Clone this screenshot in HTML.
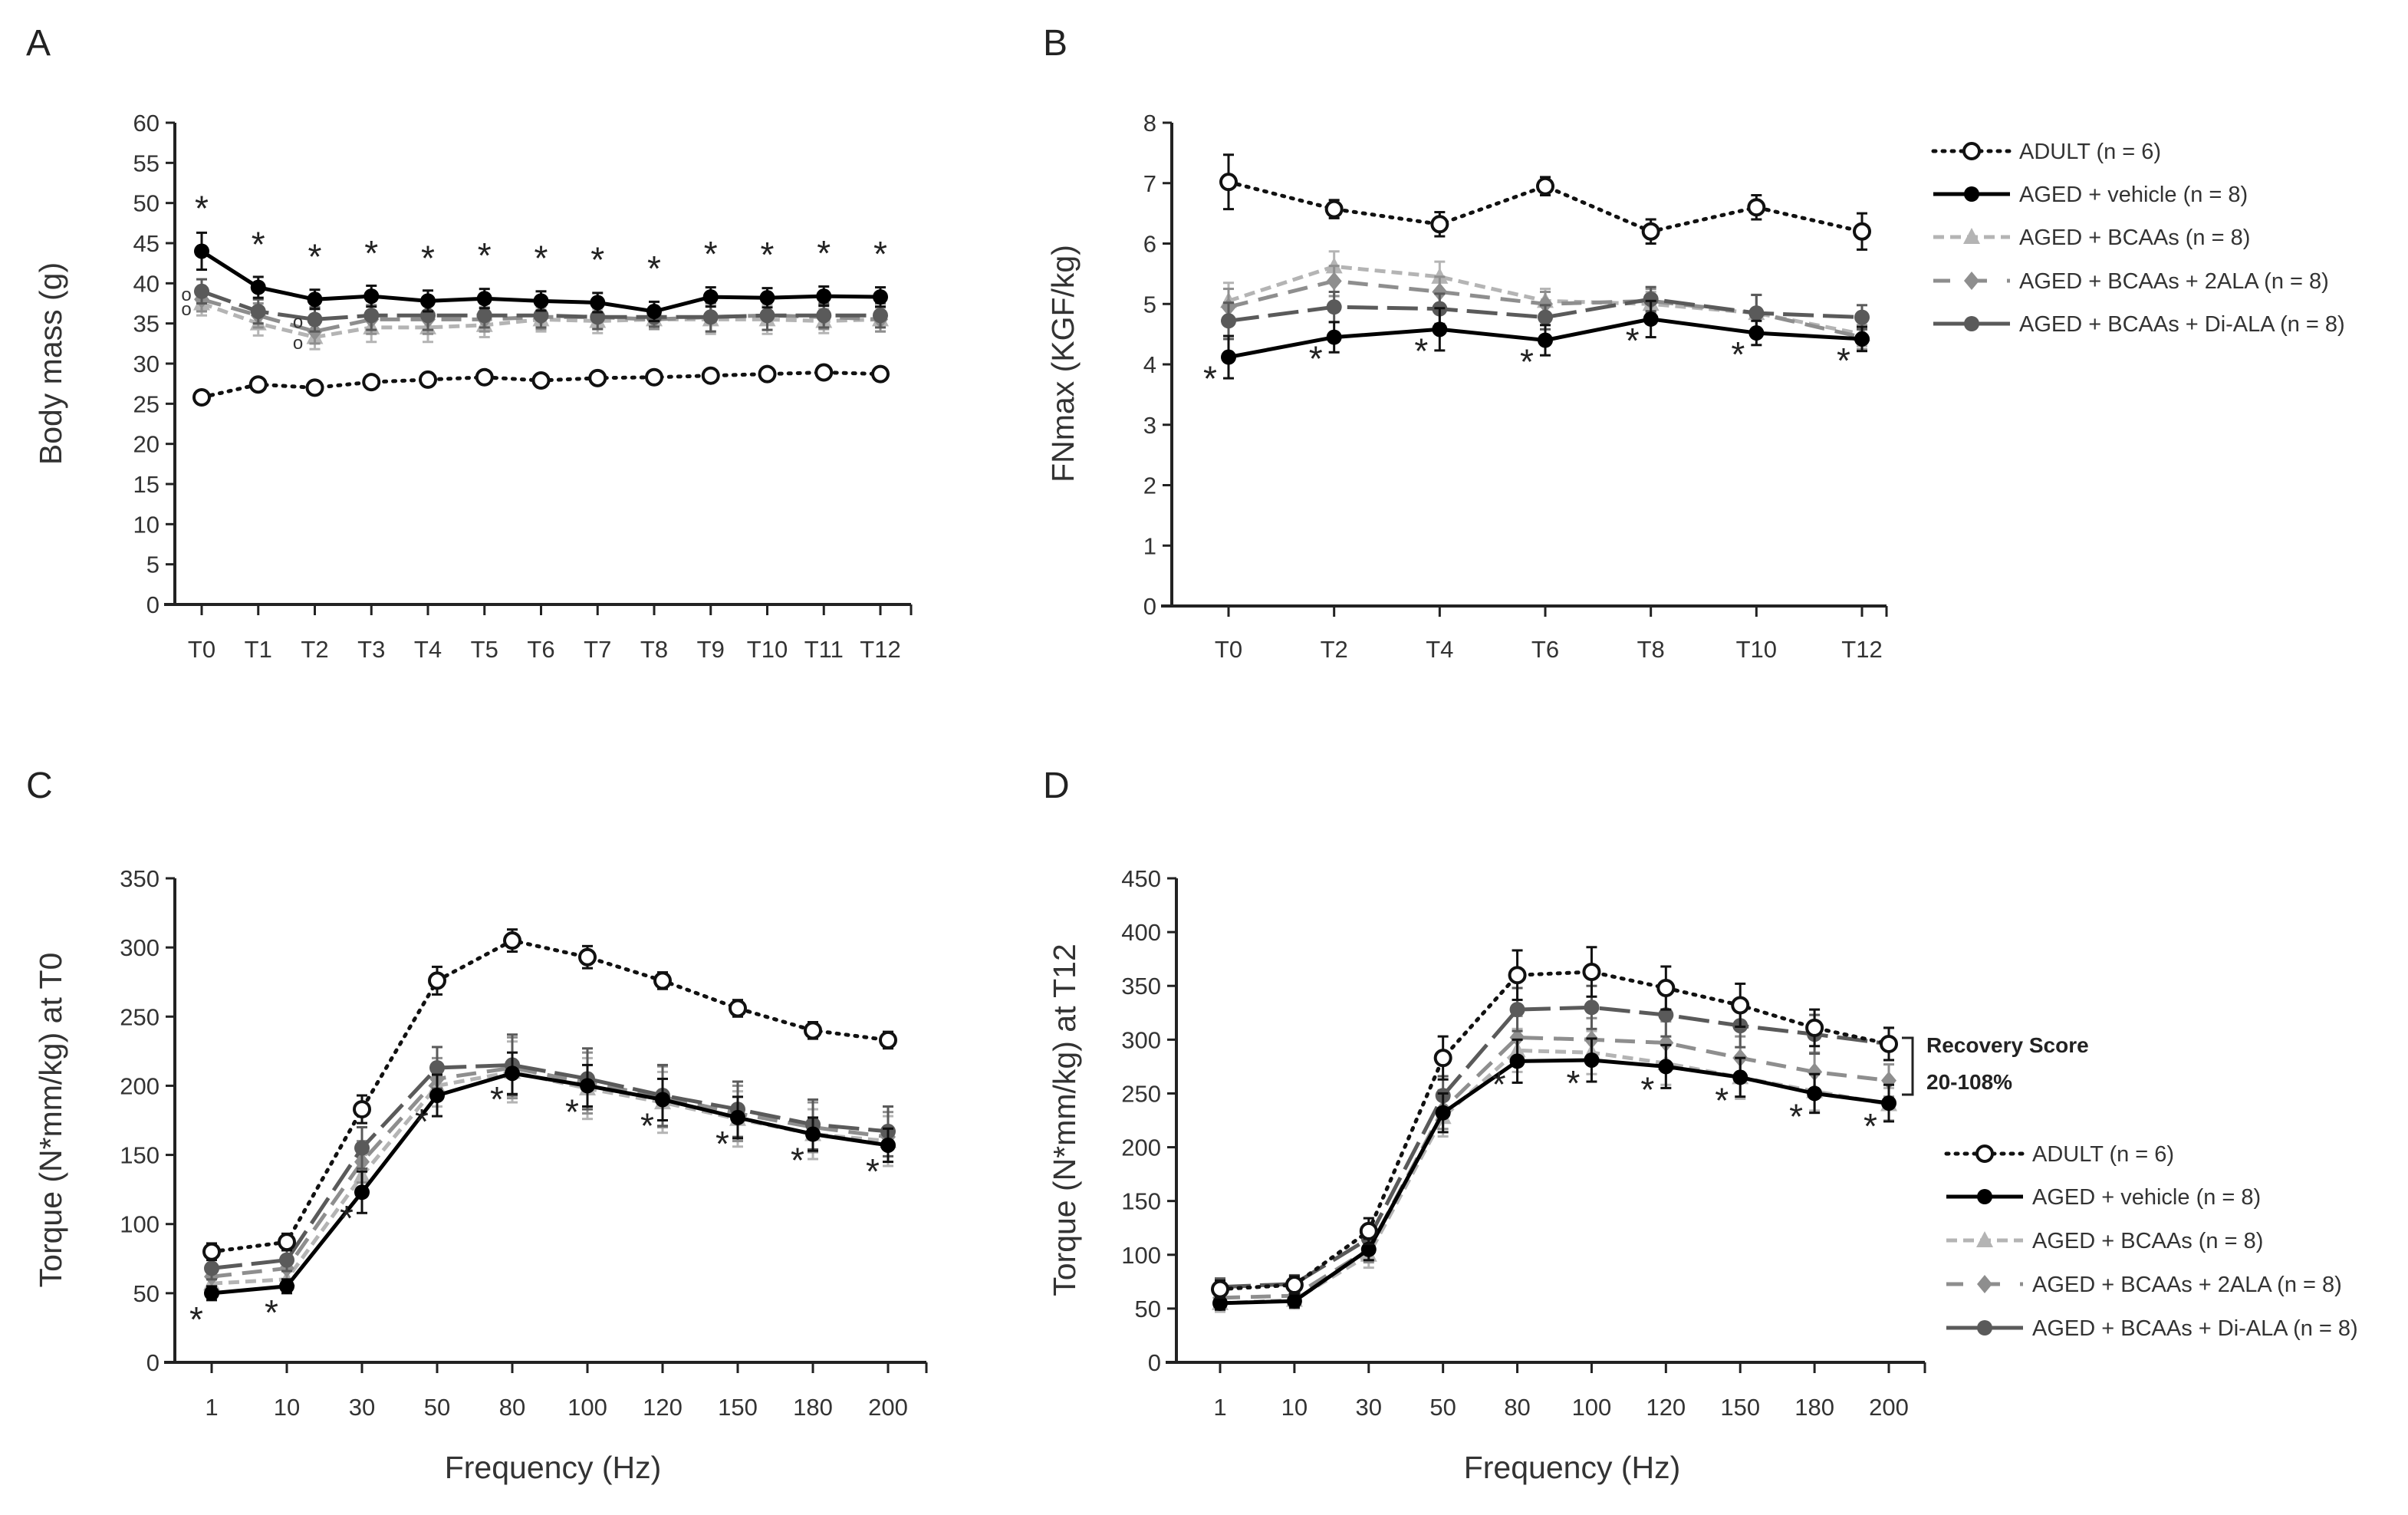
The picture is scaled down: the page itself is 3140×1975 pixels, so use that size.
<!DOCTYPE html>
<html><head><meta charset="utf-8"><style>
html,body{margin:0;padding:0;background:#fff;}
svg{display:block;font-family:"Liberation Sans",sans-serif;}
</style></head><body>
<svg id="fig" width="3140" height="1975" viewBox="0 0 3140 1975" xmlns="http://www.w3.org/2000/svg"></svg>
<script>
// ---------- Panel A data ----------
const catsA = ["T0","T1","T2","T3","T4","T5","T6","T7","T8","T9","T10","T11","T12"];
const ticksA = [0,5,10,15,20,25,30,35,40,45,50,55,60];
const adultA = [25.8,27.4,27,27.7,28,28.3,27.9,28.2,28.3,28.5,28.7,28.9,28.7];
const vehA = [44,39.5,38,38.4,37.8,38.1,37.8,37.6,36.5,38.3,38.2,38.4,38.3];
const bcaaA = [37.5,35,33.3,34.5,34.5,34.8,35.5,35.3,35.5,35.5,35.5,35.3,35.5];
const alaA = [38,36,34,35.5,35.5,35.5,35.8,35.8,35.5,35.8,36,35.8,35.5];
const dialaA = [39,36.5,35.5,36,36,36,36,35.8,35.8,35.8,36,36,36];
const errAdultA = [0.6,0.6,0.6,0.6,0.6,0.6,0.6,0.6,0.6,0.6,0.6,0.6,0.6];
const errVehA = [2.3,1.3,1.2,1.3,1.3,1.2,1.2,1.2,1.2,1.2,1.2,1.2,1.2];
const errOtherA = [1.5,1.5,1.5,1.8,1.8,1.5,1.5,1.5,1.2,1.8,1.8,1.5,1.5];
// ---------- Panel B data ----------
const catsB = ["T0","T2","T4","T6","T8","T10","T12"];
const ticksB = [0,1,2,3,4,5,6,7,8];
const adultB = [7.02,6.57,6.32,6.95,6.2,6.6,6.2];
const vehB = [4.12,4.45,4.58,4.4,4.75,4.52,4.42];
const bcaaB = [5.05,5.62,5.45,5.05,5.0,4.85,4.5];
const alaB = [4.95,5.38,5.2,5.0,5.05,4.85,4.45];
const dialaB = [4.72,4.95,4.92,4.78,5.08,4.85,4.78];
const errAdultB = [0.45,0.15,0.2,0.15,0.2,0.2,0.3];
const errVehB = [0.35,0.25,0.35,0.25,0.3,0.2,0.2];
const errOtherB = [0.3,0.25,0.25,0.2,0.2,0.3,0.2];
// ---------- Panel C data ----------
const catsC = ["1","10","30","50","80","100","120","150","180","200"];
const ticksC = [0,50,100,150,200,250,300,350];
const adultC = [80,87,183,276,305,293,276,256,240,233];
const vehC = [50,55,123,193,209,200,190,177,165,157];
const bcaaC = [57,60,135,200,210,198,188,176,165,160];
const alaC = [62,68,145,205,213,202,192,180,170,163];
const dialaC = [68,74,155,213,215,205,193,183,172,167];
const errAdultC = [6,6,10,10,8,8,6,6,6,6];
const errVehC = [5,5,15,15,15,15,15,15,12,12];
const errOtherC = [8,8,15,15,22,22,22,20,18,18];
// ---------- Panel D data ----------
const catsD = ["1","10","30","50","80","100","120","150","180","200"];
const ticksD = [0,50,100,150,200,250,300,350,400,450];
const adultD = [68,72,122,283,360,363,348,332,311,296];
const vehD = [55,57,105,232,280,281,275,265,250,241];
const bcaaD = [55,58,100,228,290,288,278,265,252,240];
const alaD = [60,62,105,235,302,300,297,283,270,262];
const dialaD = [70,73,115,248,328,330,323,313,305,296];
const errAdultD = [8,8,12,20,23,23,20,20,17,15];
const errVehD = [6,6,10,18,20,20,20,18,18,17];
const errOtherD = [8,8,12,18,20,20,20,20,18,15];

const legendLabels = ["ADULT (n = 6)","AGED + vehicle (n = 8)","AGED + BCAAs (n = 8)","AGED + BCAAs + 2ALA (n = 8)","AGED + BCAAs + Di-ALA (n = 8)"];

const NS = "http://www.w3.org/2000/svg";
const svg = document.getElementById("fig");
function mk(tag, attrs, parent){
  const e = document.createElementNS(NS, tag);
  for (const k in attrs) e.setAttribute(k, attrs[k]);
  (parent||svg).appendChild(e);
  return e;
}
const styles = [
  {stroke:"#111", dash:"3 9", ldash:"3 9", cap:"round", w:5, marker:"circleOpen", fill:"#fff"},
  {stroke:"#000", dash:"", ldash:"", cap:"butt", w:5, marker:"circle", fill:"#000"},
  {stroke:"#b4b4b4", dash:"14 8", ldash:"14 8", cap:"butt", w:5, marker:"triangle", fill:"#b4b4b4"},
  {stroke:"#8e8e8e", dash:"26 14", ldash:"22 26", cap:"butt", w:5, marker:"diamond", fill:"#8e8e8e"},
  {stroke:"#5a5a5a", dash:"40 12", ldash:"", cap:"butt", w:5, marker:"circle", fill:"#5a5a5a"}
];
function marker(g, type, x, y, st){
  let m;
  if (type==="circleOpen") m = mk("circle",{cx:x,cy:y,r:10,fill:"#fff",stroke:"#111","stroke-width":4},g);
  else if (type==="circle") m = mk("circle",{cx:x,cy:y,r:10,fill:st.fill},g);
  else if (type==="triangle") m = mk("polygon",{points:`${x},${y-12} ${x+11},${y+9} ${x-11},${y+9}`,fill:st.fill},g);
  else m = mk("polygon",{points:`${x},${y-12} ${x+10},${y} ${x},${y+12} ${x-10},${y}`,fill:st.fill},g);
  return m;
}
function panel(opt){
  const g = mk("g",{});
  
  
  const {x0,x1,yTop,yBot,ticks,cats,cx0,cx1} = opt;
  const ymin = ticks[0], ymax = ticks[ticks.length-1];
  const Y = v => yBot - (v-ymin)/(ymax-ymin)*(yBot-yTop);
  const step = (cx1-cx0)/(cats.length-1);
  const X = i => cx0 + i*step;
  const L = mk("text",{x:opt.lx,y:opt.ly,"font-size":48,fill:"#222"},g);
  L.textContent = opt.letter;
  
  
  const ya = mk("line",{x1:x0,y1:yTop,x2:x0,y2:yBot,stroke:"#222","stroke-width":4},g);
  
  
  const xa = mk("line",{x1:x0-14,y1:yBot,x2:x1,y2:yBot,stroke:"#222","stroke-width":4},g);
  
  
  mk("line",{x1:x1,y1:yBot,x2:x1,y2:yBot+14,stroke:"#222","stroke-width":3},g);
  ticks.forEach(t=>{
    mk("line",{x1:x0-12,y1:Y(t),x2:x0,y2:Y(t),stroke:"#222","stroke-width":3},g);
    const tx = mk("text",{x:x0-20,y:Y(t)+11,"font-size":31,"text-anchor":"end",fill:"#333"},g);
    tx.textContent = t;
    
    
  });
  cats.forEach((c,i)=>{
    mk("line",{x1:X(i),y1:yBot,x2:X(i),y2:yBot+14,stroke:"#222","stroke-width":3},g);
    const tx = mk("text",{x:X(i),y:opt.tickY,"font-size":31,"text-anchor":"middle",fill:"#333"},g);
    tx.textContent = c;
    
    
  });
  const yt = mk("text",{x:0,y:0,"font-size":41,"text-anchor":"middle",fill:"#333",transform:`translate(${opt.ytx},${opt.yty}) rotate(-90)`},g);
  yt.textContent = opt.ytitle;
  
  
  if (opt.xtitle){
    const xt = mk("text",{x:opt.xtx,y:opt.xty,"font-size":41,"text-anchor":"middle",fill:"#333"},g);
    xt.textContent = opt.xtitle;
    
    
  }
  const order = [2,3,4,1,0];
  order.forEach(si=>{
    const st = styles[si], vals = opt.series[si], errs = opt.errs[si];
    const sg = mk("g",{},g);
    
    
    vals.forEach((v,i)=>{
      const e = errs[i];
      const ec = si===0||si===1 ? "#111" : st.stroke;
      mk("line",{x1:X(i),y1:Y(v+e),x2:X(i),y2:Y(v-e),stroke:ec,"stroke-width":3},sg);
      mk("line",{x1:X(i)-7,y1:Y(v+e),x2:X(i)+7,y2:Y(v+e),stroke:ec,"stroke-width":3},sg);
      mk("line",{x1:X(i)-7,y1:Y(v-e),x2:X(i)+7,y2:Y(v-e),stroke:ec,"stroke-width":3},sg);
    });
    const pts = vals.map((v,i)=>X(i).toFixed(1)+","+Y(v).toFixed(1)).join(" ");
    const pl = mk("polyline",{points:pts,fill:"none",stroke:st.stroke,"stroke-width":st.w,"stroke-dasharray":st.dash,"stroke-linecap":st.cap},sg);
    
    
    vals.forEach((v,i)=>{
      const m = marker(sg, st.marker, X(i), Y(v), st);
      
      
    });
  });
  opt.series[1].forEach((v,i)=>{
    if (opt.starFrom!==undefined && i<opt.starFrom) return;
    const a = mk("text",{x:X(i)+opt.sdx,y:Y(v)+opt.sdy,"font-size":46,"text-anchor":"middle",fill:"#222"},g);
    a.textContent = "*";
    
    
  });
  return {X,Y,g};
}
function legend(x, ys){
  const g = mk("g",{});
  
  
  legendLabels.forEach((lab,i)=>{
    const st = styles[i], y = ys[i];
    const eg = mk("g",{},g);
    
    
    mk("line",{x1:x,y1:y,x2:x+100,y2:y,stroke:st.stroke,"stroke-width":st.w,"stroke-dasharray":st.ldash,"stroke-linecap":st.cap},eg);
    marker(eg, st.marker, x+50, y, st);
    const t = mk("text",{x:x+112,y:y+10,"font-size":29,fill:"#333"},eg);
    t.textContent = lab;
  });
}
const pA = panel({name:"panel-a-body-mass",letter:"A",lx:34,ly:72,x0:228,x1:1188,yTop:160,yBot:788,ticks:ticksA,cats:catsA,cx0:263,cx1:1148,tickY:857,
  ytitle:"Body mass (g)",ytx:80,yty:474,series:[adultA,vehA,bcaaA,alaA,dialaA],errs:[errAdultA,errVehA,errOtherA,errOtherA,errOtherA],sdx:0,sdy:-40});
[[0,38.6,-20],[0,36.8,-20],[2,35.2,-22],[2,32.6,-22]].forEach(a=>{
  const t = mk("text",{x:pA.X(a[0])+a[2],y:pA.Y(a[1])+8,"font-size":24,"text-anchor":"middle",fill:"#333"},pA.g);
  t.textContent = "o";
  
  
});
panel({name:"panel-b-fnmax",letter:"B",lx:1360,ly:72,x0:1528,x1:2460,yTop:160,yBot:790,ticks:ticksB,cats:catsB,cx0:1602,cx1:2428,tickY:857,
  ytitle:"FNmax (KGF/kg)",ytx:1400,yty:474,series:[adultB,vehB,bcaaB,alaB,dialaB],errs:[errAdultB,errVehB,errOtherB,errOtherB,errOtherB],sdx:-24,sdy:44});
legend(2521,[197,253,309,366,422]);
panel({name:"panel-c-torque-t0",letter:"C",lx:34,ly:1040,x0:228,x1:1208,yTop:1145,yBot:1776,ticks:ticksC,cats:catsC,cx0:276,cx1:1158,tickY:1845,
  ytitle:"Torque (N*mm/kg) at T0",ytx:80,yty:1460,xtitle:"Frequency (Hz)",xtx:721,xty:1927,series:[adultC,vehC,bcaaC,alaC,dialaC],errs:[errAdultC,errVehC,errOtherC,errOtherC,errOtherC],sdx:-20,sdy:50});
const pD = panel({name:"panel-d-torque-t12",letter:"D",lx:1360,ly:1040,x0:1534,x1:2510,yTop:1145,yBot:1776,ticks:ticksD,cats:catsD,cx0:1591,cx1:2463,tickY:1845,
  ytitle:"Torque (N*mm/kg) at T12",ytx:1402,yty:1460,xtitle:"Frequency (Hz)",xtx:2050,xty:1927,series:[adultD,vehD,bcaaD,alaD,dialaD],errs:[errAdultD,errVehD,errOtherD,errOtherD,errOtherD],sdx:-24,sdy:46,starFrom:4});
legend(2538,[1504,1560,1617,1674,1731]);
const br = mk("polyline",{points:"2480,1353 2494,1353 2494,1427 2480,1427",fill:"none",stroke:"#222","stroke-width":3});


const r1 = mk("text",{x:2512,y:1372,"font-size":28,"font-weight":"bold",fill:"#222"});
r1.textContent = "Recovery Score";


const r2 = mk("text",{x:2512,y:1420,"font-size":28,"font-weight":"bold",fill:"#222"});
r2.textContent = "20-108%";


</script>
</body></html>
